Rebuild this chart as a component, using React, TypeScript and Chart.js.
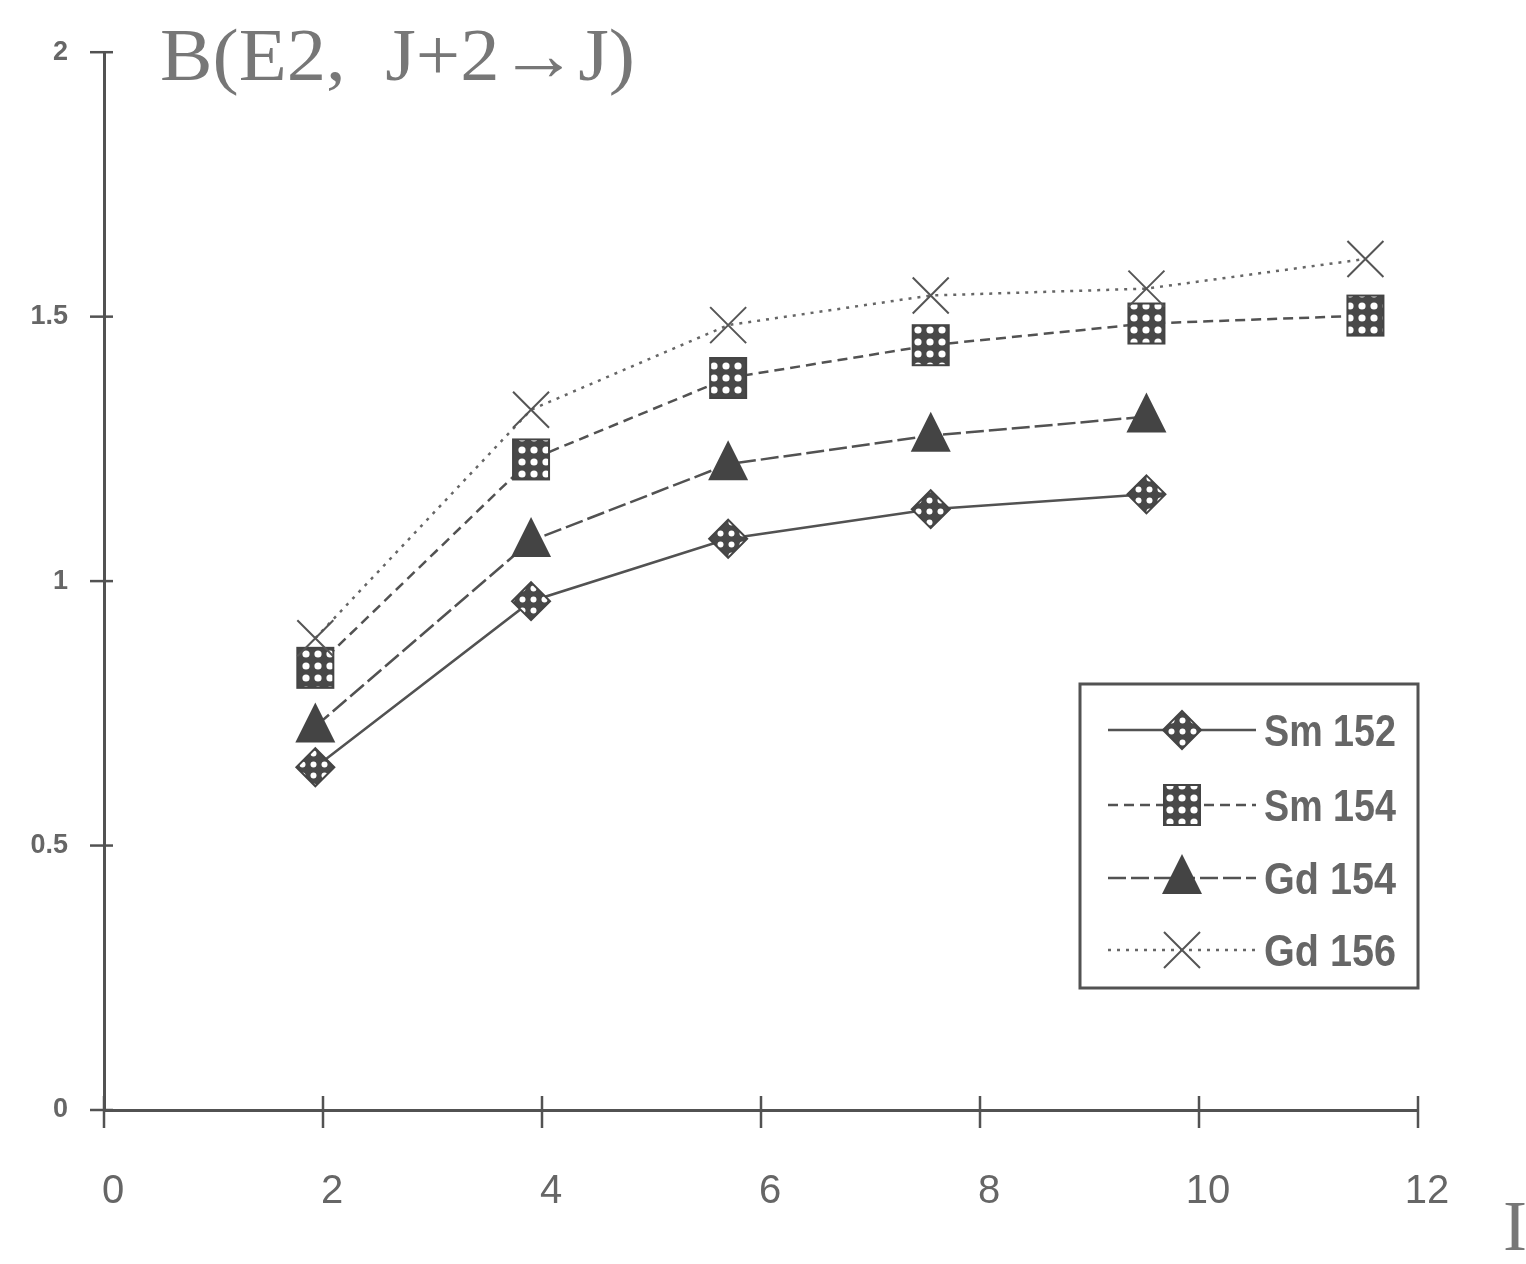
import React, { useEffect, useRef } from 'react';
import { Chart, registerables } from 'chart.js';

Chart.register(...registerables);

// ---- data ----
const jValues = [1.93, 3.9, 5.7, 7.55, 9.52, 11.52];
const sm152 = [0.648, 0.962, 1.08, 1.136, 1.164];
const sm154 = [0.836, 1.23, 1.384, 1.446, 1.487, 1.502];
const gd154 = [0.725, 1.076, 1.221, 1.275, 1.311];
const gd156 = [0.892, 1.324, 1.484, 1.54, 1.553, 1.609];
const seriesNames = ['Sm 152', 'Sm 154', 'Gd 154', 'Gd 156'];
const xTicks = [0, 2, 4, 6, 8, 10, 12];
const yTicks = [0, 0.5, 1, 1.5, 2];
const yTickLabels = ['0', '0.5', '1', '1.5', '2'];
const titleText = 'B(E2,  J+2\u2192J)';
const xAxisLabel = 'I';

const W = 1526;
const H = 1264;
const INK = '#525252';
const TEXT = '#666666';
const NARROW = "'Liberation Sans Narrow', 'Liberation Sans', Arial, sans-serif";

function makeDotPattern(ctx: CanvasRenderingContext2D, size: number, dot: number) {
  const c = document.createElement('canvas');
  c.width = size;
  c.height = size;
  const g = c.getContext('2d')!;
  g.fillStyle = '#484848';
  g.fillRect(0, 0, size, size);
  g.fillStyle = '#ffffff';
  g.beginPath();
  g.arc(size / 2, size / 2, dot, 0, Math.PI * 2);
  g.fill();
  return ctx.createPattern(c, 'repeat')!;
}

const toPts = (ys: number[]) => ys.map((y, i) => ({ x: jValues[i], y }));

function drawFitted(ctx: CanvasRenderingContext2D, text: string, x: number, y: number, width: number) {
  const m = ctx.measureText(text).width;
  ctx.save();
  ctx.translate(x, y);
  ctx.scale(width / m, 1);
  ctx.fillText(text, 0, 0);
  ctx.restore();
}

export default function App() {
  const ref = useRef<HTMLCanvasElement | null>(null);

  useEffect(() => {
    const canvas = ref.current!;
    const ctx0 = canvas.getContext('2d')!;
    const patA = makeDotPattern(ctx0, 11, 3);
    const patB = makeDotPattern(ctx0, 12, 3.6);

    const drawMarker = (ctx: CanvasRenderingContext2D, kind: number, x: number, y: number) => {
      ctx.save();
      ctx.setLineDash([]);
      if (kind === 0) {
        const r = 19;
        ctx.beginPath();
        ctx.moveTo(x, y - r);
        ctx.lineTo(x + r, y);
        ctx.lineTo(x, y + r);
        ctx.lineTo(x - r, y);
        ctx.closePath();
        ctx.fillStyle = patA;
        ctx.fill();
        ctx.strokeStyle = '#444';
        ctx.lineWidth = 2;
        ctx.stroke();
      } else if (kind === 1) {
        ctx.fillStyle = patB;
        ctx.fillRect(x - 18, y - 20, 36, 40);
        ctx.strokeStyle = '#444';
        ctx.lineWidth = 2;
        ctx.strokeRect(x - 18, y - 20, 36, 40);
      } else if (kind === 2) {
        ctx.beginPath();
        ctx.moveTo(x, y - 24);
        ctx.lineTo(x + 20, y + 16);
        ctx.lineTo(x - 20, y + 16);
        ctx.closePath();
        ctx.fillStyle = '#444';
        ctx.fill();
      } else {
        ctx.strokeStyle = '#555';
        ctx.lineWidth = 2;
        ctx.beginPath();
        ctx.moveTo(x - 18, y - 18);
        ctx.lineTo(x + 18, y + 18);
        ctx.moveTo(x + 18, y - 18);
        ctx.lineTo(x - 18, y + 18);
        ctx.stroke();
      }
      ctx.restore();
    };

    const dashes = [[], [10, 6], [18, 5], [3, 6]];

    const decor = {
      id: 'decor',
      afterDraw(chart: any) {
        const ctx: CanvasRenderingContext2D = chart.ctx;
        const { left, bottom } = chart.chartArea;
        const xs = chart.scales.x;
        const ys = chart.scales.y;
        ctx.save();
        // crossing tick marks
        ctx.strokeStyle = INK;
        ctx.lineWidth = 2.5;
        ctx.setLineDash([]);
        yTicks.forEach((v) => {
          const py = ys.getPixelForValue(v);
          ctx.beginPath();
          ctx.moveTo(left - 14, py);
          ctx.lineTo(left + 9, py);
          ctx.stroke();
        });
        xTicks.forEach((v) => {
          const px = xs.getPixelForValue(v);
          ctx.beginPath();
          ctx.moveTo(px, bottom - 14);
          ctx.lineTo(px, bottom + 18);
          ctx.stroke();
        });
        // title
        ctx.fillStyle = '#777';
        ctx.textBaseline = 'alphabetic';
        ctx.textAlign = 'left';
        ctx.font = "75px 'Liberation Serif', 'DejaVu Serif', serif";
        drawFitted(ctx, titleText, 160, 80, 475);
        ctx.font = "72px 'Liberation Serif', 'DejaVu Serif', serif";
        ctx.fillText(xAxisLabel, 1503, 1250);
        // legend box
        ctx.strokeStyle = INK;
        ctx.lineWidth = 3;
        ctx.strokeRect(1080, 684, 338, 304);
        const rows = [730, 805, 878, 950];
        rows.forEach((ry, k) => {
          ctx.save();
          ctx.strokeStyle = k === 3 ? '#666' : INK;
          ctx.lineWidth = 2.5;
          ctx.setLineDash(dashes[k]);
          ctx.beginPath();
          ctx.moveTo(1108, ry);
          ctx.lineTo(1256, ry);
          ctx.stroke();
          ctx.restore();
          drawMarker(ctx, k, 1182, ry);
          ctx.fillStyle = TEXT;
          ctx.font = "bold 44px 'Liberation Sans', Arial, sans-serif";
          ctx.textBaseline = 'alphabetic';
          drawFitted(ctx, seriesNames[k], 1264, ry + 16, 132);
        });
        ctx.restore();
      },
    };

    const mk = (k: number, ys: number[]) => ({
      label: seriesNames[k],
      data: toPts(ys),
      borderColor: k === 3 ? '#666' : INK,
      borderWidth: 2.5,
      borderDash: dashes[k],
      fill: false,
      tension: 0,
      pointRadius: 0,
      showLine: true,
    });

    const markerPlugin = {
      id: 'markers',
      afterDatasetsDraw(chart: any) {
        const ctx: CanvasRenderingContext2D = chart.ctx;
        chart.data.datasets.forEach((_: any, k: number) => {
          const meta = chart.getDatasetMeta(k);
          meta.data.forEach((pt: any) => drawMarker(ctx, k, pt.x, pt.y));
        });
      },
    };

    const chart = new Chart(canvas, {
      type: 'scatter',
      data: {
        datasets: [mk(0, sm152), mk(1, sm154), mk(2, gd154), mk(3, gd156)],
      },
      options: {
        animation: false,
        responsive: false,
        maintainAspectRatio: false,
        layout: { padding: { top: 45, right: 108, left: 0, bottom: 0 } },
        plugins: { legend: { display: false }, tooltip: { enabled: false } },
        scales: {
          x: {
            type: 'linear',
            min: 0,
            max: 12,
            afterBuildTicks: (s: any) => {
              s.ticks = xTicks.map((v) => ({ value: v }));
            },
            afterFit: (s: any) => {
              s.height = 154;
            },
            grid: { display: false, drawTicks: false },
            border: { display: true, color: INK, width: 3 },
            ticks: {
              color: TEXT,
              font: { family: NARROW, size: 40 },
              padding: 58,
              labelOffset: 9,
              maxRotation: 0,
              autoSkip: false,
            },
          },
          y: {
            type: 'linear',
            min: 0,
            max: 2,
            afterBuildTicks: (s: any) => {
              s.ticks = yTicks.map((v) => ({ value: v }));
            },
            afterFit: (s: any) => {
              s.width = 104;
            },
            grid: { display: false, drawTicks: false },
            border: { display: true, color: INK, width: 3 },
            ticks: {
              color: TEXT,
              font: { family: NARROW, size: 27, weight: 'bold' },
              padding: 36,
              autoSkip: false,
              callback: (v: any) => {
                const i = yTicks.indexOf(Number(v));
                return i >= 0 ? yTickLabels[i] : '';
              },
            },
          },
        },
      },
      plugins: [markerPlugin, decor],
    } as any);

    return () => chart.destroy();
  }, []);

  return (
    <div style={{ position: 'fixed', left: 0, top: 0, width: W, height: H, background: '#fff' }}>
      <canvas ref={ref} width={W} height={H} style={{ width: W, height: H, display: 'block' }} />
    </div>
  );
}
